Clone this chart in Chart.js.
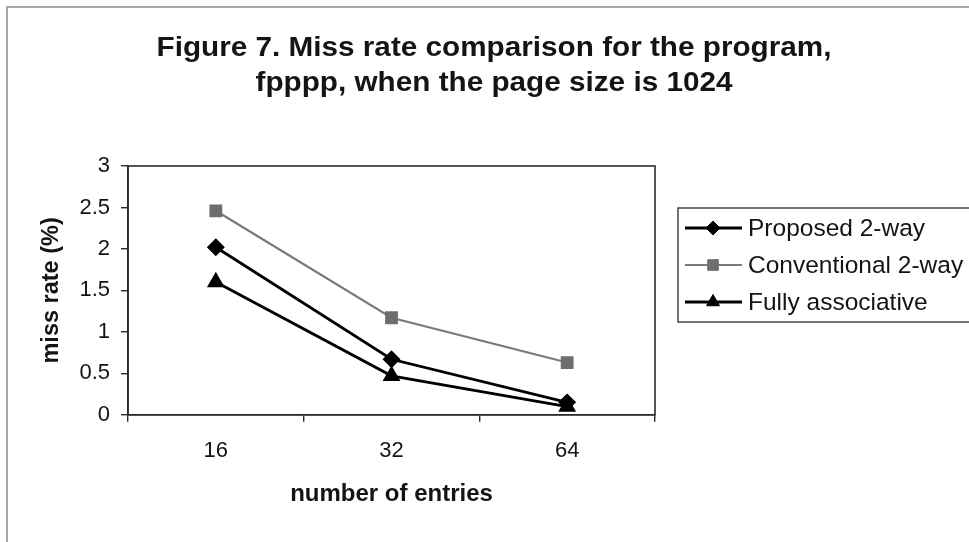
<!DOCTYPE html>
<html>
<head>
<meta charset="utf-8">
<script src="https://cdn.jsdelivr.net/npm/chart.js@4/dist/chart.umd.min.js"></script>
<style>
  html, body { margin: 0; padding: 0; background: #fff; }
  #wrap { position: relative; width: 969px; height: 542px; overflow: hidden; background: #fff; }
  #frame { position: absolute; left: 6px; top: 6px; width: 980px; height: 560px;
           border-left: 2px solid #a6a6a6; border-top: 2px solid #a6a6a6; }
  canvas { position: absolute; left: 0; top: 0; }
</style>
</head>
<body>
<div id="wrap">
  <div id="frame"></div>
  <canvas id="c" width="969" height="542"></canvas>
</div>
<script>
// Miss rate (%) by number of TLB entries, page size 1024, program fpppp
const titleLines = ['Figure 7. Miss rate comparison for the program,', 'fpppp, when the page size is 1024'];
const entries = ['16', '32', '64'];
const proposed2way = [2.02, 0.67, 0.15];
const conventional2way = [2.46, 1.17, 0.63];
const fullyAssociative = [1.6, 0.47, 0.1];
const seriesNames = ['Proposed 2-way', 'Conventional 2-way', 'Fully associative'];
const yTicks = [0, 0.5, 1, 1.5, 2, 2.5, 3];

const FONT = '"Liberation Sans", Arial, sans-serif';
const INK = '#141414';

// Frame round the plot, the two-line title and the boxed legend on the right
const decor = {
  id: 'decor',
  beforeDatasetsDraw(chart) {
    const ctx = chart.ctx, a = chart.chartArea;
    ctx.save();
    ctx.strokeStyle = '#2a2a2a';
    ctx.lineWidth = 1.6;
    ctx.strokeRect(a.left, a.top, a.right - a.left, a.bottom - a.top);
    ctx.restore();
  },
  afterDraw(chart) {
    const ctx = chart.ctx;
    ctx.save();
    ctx.fillStyle = INK;
    ctx.textAlign = 'center';
    ctx.textBaseline = 'alphabetic';
    ctx.font = 'bold 27px ' + FONT;
    [56, 91].forEach((base, i) => {
      ctx.save();
      ctx.translate(494, base);
      ctx.scale(1.1, 1);
      ctx.fillText(titleLines[i], 0, 0);
      ctx.restore();
    });

    // legend box
    ctx.strokeStyle = '#444';
    ctx.lineWidth = 1.5;
    ctx.strokeRect(678, 208, 320, 114);
    const rows = [228, 265, 302];
    chart.data.datasets.forEach((ds, i) => {
      const y = rows[i];
      ctx.strokeStyle = ds.borderColor;
      ctx.lineWidth = ds.borderWidth;
      ctx.beginPath();
      ctx.moveTo(685, y);
      ctx.lineTo(742, y);
      ctx.stroke();
      ctx.fillStyle = ds.pointBackgroundColor;
      ctx.strokeStyle = ds.pointBorderColor;
      ctx.lineWidth = 1;
      Chart.helpers.drawPoint(ctx, {
        pointStyle: ds.pointStyle, radius: ds.pointRadius, rotation: 0, borderWidth: 1
      }, 713, y);
      ctx.fillStyle = INK;
      ctx.textAlign = 'left';
      ctx.textBaseline = 'middle';
      ctx.font = '24.5px ' + FONT;
      ctx.fillText(ds.label, 748, y + 1);
    });
    ctx.restore();
  }
};

new Chart(document.getElementById('c'), {
  type: 'line',
  data: {
    labels: entries,
    datasets: [
      { label: seriesNames[0], data: proposed2way, borderColor: '#000', borderWidth: 2.8,
        pointStyle: 'rectRot', pointRadius: 7, pointBackgroundColor: '#000', pointBorderColor: '#000' },
      { label: seriesNames[1], data: conventional2way, borderColor: '#7a7a7a', borderWidth: 2.2,
        pointStyle: 'rect', pointRadius: 7.5, pointBackgroundColor: '#6e6e6e', pointBorderColor: '#6e6e6e' },
      { label: seriesNames[2], data: fullyAssociative, borderColor: '#000', borderWidth: 2.8,
        pointStyle: 'triangle', pointRadius: 7.5, pointBackgroundColor: '#000', pointBorderColor: '#000' }
    ]
  },
  options: {
    responsive: false,
    animation: false,
    devicePixelRatio: 1,
    layout: { padding: { left: 33, top: 166, right: 314, bottom: 26 } },
    plugins: { legend: { display: false }, title: { display: false }, tooltip: { enabled: false } },
    elements: { line: { tension: 0 } },
    scales: {
      x: {
        offset: true,
        grid: { offset: true, drawOnChartArea: false, tickLength: 7, color: '#2a2a2a', lineWidth: 1.4 },
        border: { display: true, color: '#2a2a2a', width: 1.6 },
        ticks: { color: INK, font: { family: FONT, size: 22 }, padding: 16 },
        title: { display: true, text: 'number of entries', color: INK,
                 font: { family: FONT, size: 24, weight: 'bold' }, padding: { top: 0, bottom: 7 } }
      },
      y: {
        min: 0, max: 3,
        afterBuildTicks(scale) { scale.ticks = yTicks.map(v => ({ value: v })); },
        afterFit(scale) { scale.width = 95; },
        grid: { drawOnChartArea: false, tickLength: 7, color: '#2a2a2a', lineWidth: 1.4 },
        border: { display: true, color: '#2a2a2a', width: 1.6 },
        ticks: { color: INK, font: { family: FONT, size: 22 }, padding: 11,
                 callback: v => String(v) },
        title: { display: true, text: 'miss rate (%)', color: INK,
                 font: { family: FONT, size: 23.5, weight: 'bold' }, padding: 4 }
      }
    }
  },
  plugins: [decor]
});
</script>
</body>
</html>
